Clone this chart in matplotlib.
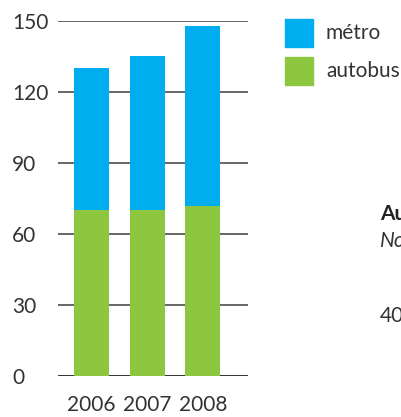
import matplotlib.pyplot as plt
import numpy as np

plt.rcParams['font.family'] = ['Lato', 'DejaVu Sans']

years = ['2006', '2007', '2008']
autobus = [70, 70, 72]
metro = [60, 65, 76]
yticks = [0, 30, 60, 90, 120, 150]

blue = '#00aeef'
green = '#8dc63f'
txt = '#333333'
fs = 15

fig = plt.figure(figsize=(4.02, 4.17), dpi=100)
ax = fig.add_axes([58 / 402, 1 - 376 / 417, 190 / 402, 355 / 417])

x = np.arange(len(years))
ax.bar(x, autobus, width=0.63, color=green, zorder=3)
ax.bar(x, metro, width=0.63, bottom=autobus, color=blue, zorder=3)

ax.set_ylim(0, 150)
ax.set_xlim(-0.6, 2.81)
ax.set_yticks(yticks)
ax.set_xticks(x)
ax.set_xticklabels(years)
for y in yticks:
    ax.axhline(y, color='#111111' if y == 0 else '#4d4d4d', lw=1.2, zorder=2)

for s in ax.spines.values():
    s.set_visible(False)
ax.tick_params(axis='both', length=0, labelsize=fs, labelcolor=txt)
ax.tick_params(axis='y', pad=33)
ax.tick_params(axis='x', pad=14)
for lab in ax.get_yticklabels():
    lab.set_horizontalalignment('left')

# legend
fig.patches.append(plt.Rectangle((285 / 402, 1 - 47 / 417), 28 / 402, 28 / 417,
                                 transform=fig.transFigure, color=blue))
fig.patches.append(plt.Rectangle((285 / 402, 1 - 85 / 417), 28 / 402, 28 / 417,
                                 transform=fig.transFigure, color=green))
fig.text(326 / 402, 1 - 33 / 417, 'métro', fontsize=fs, color=txt, va='center')
fig.text(326 / 402, 1 - 71 / 417, 'autobus', fontsize=fs, color=txt, va='center')

# partial text from neighbouring panel (cut off at the edge, as in the original)
fig.text(380 / 402, 1 - 214 / 417, 'Au', fontsize=fs, fontweight='bold', color='#222222', va='center')
fig.text(380 / 402, 1 - 241 / 417, 'No', fontsize=fs, style='italic', color=txt, va='center')
fig.text(380 / 402, 1 - 316 / 417, '40', fontsize=fs, color=txt, va='center')

fig.savefig('out.png', dpi=100)
